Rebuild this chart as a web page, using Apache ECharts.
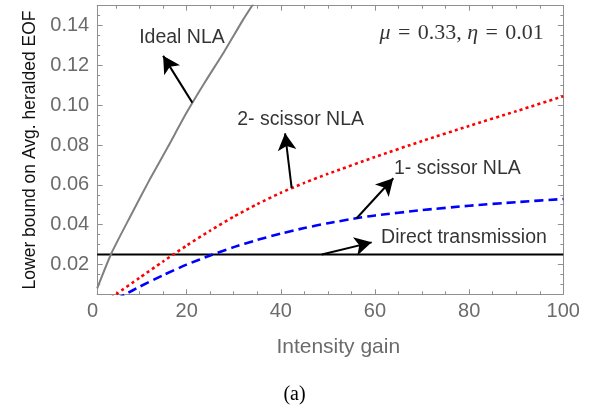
<!DOCTYPE html>
<html><head><meta charset="utf-8">
<script src="https://cdn.jsdelivr.net/npm/echarts@6/dist/echarts.min.js"></script>
<style>html,body{margin:0;padding:0;background:#fff}#c{width:589px;height:405px}</style>
</head><body><div id="c"></div>
<script>
// ---- data ----
const xTickLabels = [0, 20, 40, 60, 80, 100];
const xMajorTicks = [20, 40, 60, 80, 100];
const xMinorTicks = [5, 10, 15, 25, 30, 35, 45, 50, 55, 65, 70, 75, 85, 90, 95];
const yTickLabels = [0.02, 0.04, 0.06, 0.08, 0.10, 0.12, 0.14];

const idealX = [1, 4, 8, 12, 16, 20, 24, 28, 32, 35];
const idealY = [0.008, 0.0255, 0.044, 0.062, 0.079, 0.0963, 0.112, 0.127, 0.143, 0.154];

const scissor2X = [4, 5, 10, 15, 20, 25, 30, 35, 40, 45, 50, 60, 70, 80, 90, 100];
const scissor2Y = [0.0033, 0.005, 0.0133, 0.0215, 0.0295, 0.037, 0.044, 0.0503, 0.056, 0.061, 0.0655, 0.074, 0.082, 0.0896, 0.097, 0.1045];

const scissor1X = [5, 7, 10, 15, 20, 25, 30, 35, 40, 45, 50, 56, 60, 70, 80, 90, 100];
const scissor1Y = [0.0025, 0.005, 0.0088, 0.0146, 0.0199, 0.0245, 0.0287, 0.0323, 0.0355, 0.0383, 0.0407, 0.0432, 0.0446, 0.0473, 0.0495, 0.0513, 0.0529];

const directX = [1, 100];
const directY = [0.025, 0.025];

// annotation arrows: [tailX, tailY, tipX, tipY]
const arrowIdeal = [21.2, 0.1013, 15.0, 0.1248];
const arrow2 = [42.3, 0.0585, 40.9, 0.0859];
const arrow1 = [56.1, 0.0432, 63.9, 0.0633];
const arrowDirect = [48.7, 0.025, 59.3, 0.0311];

// annotation texts: [x, y, text]
const noteIdeal = [19.0, 0.134, 'Ideal NLA'];
const note2 = [44.2, 0.0926, '2- scissor NLA'];
const note1 = [77.5, 0.068, '1- scissor NLA'];
const noteDirect = [78.9, 0.0333, 'Direct transmission'];
const noteParams = [78.4, 0.1362, '{i|μ}\u2004=\u20040.33, {i|η}\u2004=\u20040.01'];

// ---- chart ----
const zip = (xs, ys) => xs.map((x, i) => [x, ys[i]]);
const FRAME = '#8f8f8f';
const SANS = 'Liberation Sans, Arial, sans-serif';
const SERIF = 'Liberation Serif, DejaVu Serif, serif';
const PLOT_LEFT = 97.2, PLOT_RIGHT = 25.7, PLOT_TOP = 5.7, PLOT_BOTTOM = 110.7;
const X_MIN = 1, X_MAX = 100;
const pxPerUnit = (589 - PLOT_LEFT - PLOT_RIGHT) / (X_MAX - X_MIN);

function xAx(extra) {
  return Object.assign({
    type: 'value', min: X_MIN, max: X_MAX, gridIndex: 0,
    splitLine: { show: false },
    axisLine: { show: true, onZero: false, lineStyle: { color: FRAME, width: 1 } },
    axisLabel: { show: false }
  }, extra);
}
function yAx(extra) {
  return Object.assign({
    type: 'value', min: 0.005, max: 0.15, gridIndex: 0,
    splitLine: { show: false },
    axisLine: { show: true, onZero: false, lineStyle: { color: FRAME, width: 1 } },
    axisLabel: { show: false }
  }, extra);
}

const chart = echarts.init(document.getElementById('c'), null, { renderer: 'canvas' });
chart.setOption({
  animation: false,
  backgroundColor: '#fff',
  textStyle: { fontFamily: SANS },
  title: {
    text: '(a)', left: 'center', top: 380,
    textStyle: { fontFamily: SERIF, fontSize: 20, fontWeight: 'normal', color: '#000' }
  },
  grid: [
    { left: PLOT_LEFT, right: PLOT_RIGHT, top: PLOT_TOP, bottom: PLOT_BOTTOM, containLabel: false },
    // label-only grid whose x-range starts at 0, same scale as the plot
    { left: PLOT_LEFT - pxPerUnit * X_MIN, right: PLOT_RIGHT, top: PLOT_TOP, bottom: PLOT_BOTTOM, containLabel: false }
  ],
  xAxis: [
    xAx({
      position: 'bottom',
      axisTick: { show: true, inside: true, length: 5, customValues: xMajorTicks, lineStyle: { color: FRAME } },
      name: 'Intensity gain', nameLocation: 'middle', nameGap: 42,
      nameTextStyle: { fontSize: 21, color: '#6b6b6b', fontFamily: SANS, padding: [0, 0, 0, 16] }
    }),
    xAx({ position: 'bottom', axisLine: { show: false },
      axisTick: { show: true, inside: true, length: 3, customValues: xMinorTicks, lineStyle: { color: FRAME } } }),
    xAx({ position: 'top',
      axisTick: { show: true, inside: true, length: 5, customValues: xMajorTicks, lineStyle: { color: FRAME } } }),
    xAx({ position: 'top', axisLine: { show: false },
      axisTick: { show: true, inside: true, length: 3, customValues: xMinorTicks, lineStyle: { color: FRAME } } }),
    {
      type: 'value', gridIndex: 1, min: 0, max: X_MAX, position: 'bottom',
      splitLine: { show: false }, axisLine: { show: false }, axisTick: { show: false },
      axisLabel: { show: true, customValues: xTickLabels, fontSize: 20, color: '#6b6b6b', margin: 7, fontFamily: SANS }
    }
  ],
  yAxis: [
    yAx({
      position: 'left', interval: 0.005,
      axisTick: { show: true, inside: true, length: 3, lineStyle: { color: FRAME } },
      axisLabel: { show: true, customValues: yTickLabels, formatter: v => v.toFixed(2),
        fontSize: 20, color: '#6b6b6b', margin: 8, fontFamily: SANS },
      name: 'Lower bound on Avg. heralded EOF', nameLocation: 'middle', nameGap: 58,
      nameTextStyle: { fontSize: 17.5, color: '#111', fontFamily: SANS }
    }),
    yAx({ position: 'left', axisLine: { show: false },
      axisTick: { show: true, inside: true, length: 5.5, customValues: yTickLabels, lineStyle: { color: FRAME } } }),
    yAx({ position: 'right', interval: 0.005,
      axisTick: { show: true, inside: true, length: 3, lineStyle: { color: FRAME } } }),
    yAx({ position: 'right', axisLine: { show: false },
      axisTick: { show: true, inside: true, length: 5.5, customValues: yTickLabels, lineStyle: { color: FRAME } } }),
    {
      type: 'value', gridIndex: 1, min: 0.005, max: 0.15, show: false
    }
  ],
  series: [
    {
      name: 'Direct transmission', type: 'line', xAxisIndex: 0, yAxisIndex: 0,
      data: zip(directX, directY), showSymbol: false, symbol: 'none',
      lineStyle: { color: '#000', width: 2 },
      markLine: {
        silent: true, animation: false,
        symbol: ['none', 'arrow'], symbolSize: [14, 17],
        label: { show: false },
        lineStyle: { color: '#000', width: 2, type: 'solid' },
        data: [arrowIdeal, arrow2, arrow1, arrowDirect].map(a => [
          { coord: [a[0], a[1]] }, { coord: [a[2], a[3]] }
        ])
      }
    },
    {
      name: 'Ideal NLA', type: 'line', xAxisIndex: 0, yAxisIndex: 0,
      data: zip(idealX, idealY), showSymbol: false, symbol: 'none', smooth: 0.2, clip: true,
      lineStyle: { color: '#808080', width: 2 }
    },
    {
      name: '2- scissor NLA', type: 'line', xAxisIndex: 0, yAxisIndex: 0,
      data: zip(scissor2X, scissor2Y), showSymbol: false, symbol: 'none', smooth: 0.2, clip: true,
      lineStyle: { color: '#ff0000', width: 2.6, type: [3, 3.2] }
    },
    {
      name: '1- scissor NLA', type: 'line', xAxisIndex: 0, yAxisIndex: 0,
      data: zip(scissor1X, scissor1Y), showSymbol: false, symbol: 'none', smooth: 0.2, clip: true,
      lineStyle: { color: '#0000ff', width: 2.6, type: [9, 5] }
    },
    {
      name: 'notes', type: 'scatter', xAxisIndex: 0, yAxisIndex: 0,
      symbolSize: 1, itemStyle: { color: 'rgba(0,0,0,0)' }, silent: true,
      data: [noteIdeal, note2, note1, noteDirect],
      label: { show: true, position: 'inside', formatter: p => p.data[2],
        fontFamily: SANS, fontSize: 19.5, color: '#000' }
    },
    {
      name: 'params', type: 'scatter', xAxisIndex: 0, yAxisIndex: 0,
      symbolSize: 1, itemStyle: { color: 'rgba(0,0,0,0)' }, silent: true,
      data: [noteParams],
      label: { show: true, position: 'inside', formatter: p => p.data[2],
        fontFamily: SERIF, fontSize: 22, color: '#000',
        rich: { i: { fontStyle: 'italic', fontFamily: SERIF, fontSize: 22, color: '#000' } } }
    }
  ]
});
</script>
</body></html>
